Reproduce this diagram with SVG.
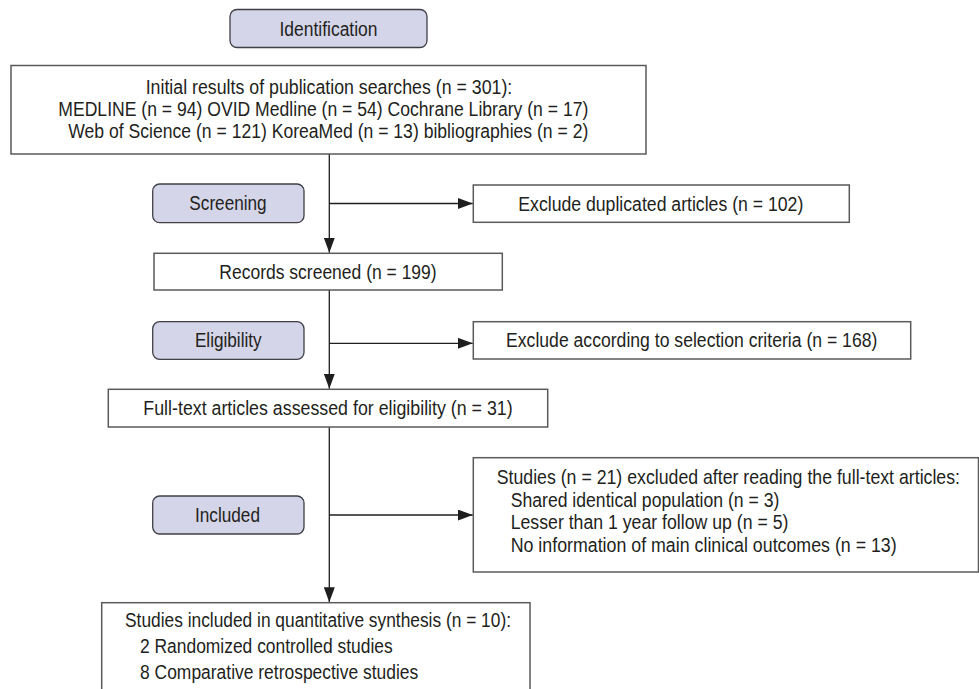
<svg xmlns="http://www.w3.org/2000/svg" width="979" height="689" viewBox="0 0 979 689">
<style>
text{font-family:"Liberation Sans",Arial,Helvetica,sans-serif;font-size:20px;fill:#231f20}
.c{text-anchor:middle}
.box{fill:#fff;stroke:#5a5a5a;stroke-width:1.5}
.phase{fill:#d5d5e9;stroke:#3f3f46;stroke-width:1.3}
.ln{fill:none;stroke:#1e1e1e;stroke-width:1.3}
</style>
<defs>
<marker id="ah" viewBox="0 0 15 11" refX="15" refY="5.5" markerWidth="15" markerHeight="11" markerUnits="userSpaceOnUse" orient="auto">
<path d="M0,0 L15,5.5 L0,11 z" fill="#1e1e1e"/>
</marker>
</defs>
<rect width="979" height="689" fill="#fff"/>
<g id="connectors">
<path class="ln" d="M329.3,154 V252.8" marker-end="url(#ah)"/>
<path class="ln" d="M329.3,203.5 H472.8" marker-end="url(#ah)"/>
<path class="ln" d="M329.3,290 V388.8" marker-end="url(#ah)"/>
<path class="ln" d="M329.3,343.3 H472.8" marker-end="url(#ah)"/>
<path class="ln" d="M329.3,427 V602.2" marker-end="url(#ah)"/>
<path class="ln" d="M329.3,515 H472.8" marker-end="url(#ah)"/>
</g>
<g id="identification">
<rect class="phase" x="230" y="9.5" width="197" height="38" rx="7"/>
<text class="c" x="328.5" y="35.5" textLength="98" lengthAdjust="spacingAndGlyphs">Identification</text>
</g>
<g id="initial-results">
<rect class="box" x="11" y="65.5" width="635" height="88.5"/>
<text class="c" x="329" y="94.3" textLength="366.6" lengthAdjust="spacingAndGlyphs">Initial results of publication searches (n = 301):</text>
<text class="c" x="323.3" y="116" textLength="530" lengthAdjust="spacingAndGlyphs">MEDLINE (n = 94) OVID Medline (n = 54) Cochrane Library (n = 17)</text>
<text class="c" x="328.3" y="138.3" textLength="520" lengthAdjust="spacingAndGlyphs">Web of Science (n = 121) KoreaMed (n = 13) bibliographies (n = 2)</text>
</g>
<g id="screening">
<rect class="phase" x="152.7" y="184" width="151.3" height="38.7" rx="7"/>
<text class="c" x="228" y="210" textLength="77.3" lengthAdjust="spacingAndGlyphs">Screening</text>
</g>
<g id="exclude-duplicated">
<rect class="box" x="473.3" y="185" width="376" height="37.3"/>
<text class="c" x="660.8" y="210.5" textLength="285" lengthAdjust="spacingAndGlyphs">Exclude duplicated articles (n = 102)</text>
</g>
<g id="records-screened">
<rect class="box" x="154" y="253.3" width="348.3" height="36.7"/>
<text class="c" x="328" y="279" textLength="217.3" lengthAdjust="spacingAndGlyphs">Records screened (n = 199)</text>
</g>
<g id="eligibility">
<rect class="phase" x="152.7" y="321.7" width="151.3" height="37.6" rx="7"/>
<text class="c" x="228.3" y="347" textLength="66.7" lengthAdjust="spacingAndGlyphs">Eligibility</text>
</g>
<g id="exclude-criteria">
<rect class="box" x="473.3" y="321.7" width="437.4" height="37.3"/>
<text class="c" x="691.7" y="347" textLength="371.3" lengthAdjust="spacingAndGlyphs">Exclude according to selection criteria (n = 168)</text>
</g>
<g id="full-text">
<rect class="box" x="108.3" y="389.3" width="439.4" height="37.7"/>
<text class="c" x="328" y="415" textLength="369.3" lengthAdjust="spacingAndGlyphs">Full-text articles assessed for eligibility (n = 31)</text>
</g>
<g id="included">
<rect class="phase" x="152.7" y="496" width="151.3" height="38" rx="7"/>
<text class="c" x="227.5" y="521.5" textLength="65" lengthAdjust="spacingAndGlyphs">Included</text>
</g>
<g id="studies-excluded">
<rect class="box" x="473.3" y="457.7" width="505.2" height="114.3"/>
<text transform="scale(0.85 1)" x="584.35" y="484" textLength="545.06" lengthAdjust="spacingAndGlyphs">Studies (n = 21) excluded after reading the full-text articles:</text>
<text x="510.7" y="506.7" textLength="268.7" lengthAdjust="spacingAndGlyphs">Shared identical population (n = 3)</text>
<text x="510.7" y="529.3" textLength="277.7" lengthAdjust="spacingAndGlyphs">Lesser than 1 year follow up (n = 5)</text>
<text x="510.7" y="551.7" textLength="386" lengthAdjust="spacingAndGlyphs">No information of main clinical outcomes (n = 13)</text>
</g>
<g id="studies-included">
<rect class="box" x="101.7" y="602.7" width="428.3" height="110"/>
<text x="125" y="627" textLength="386" lengthAdjust="spacingAndGlyphs">Studies included in quantitative synthesis (n = 10):</text>
<text x="140" y="653" textLength="252.7" lengthAdjust="spacingAndGlyphs">2 Randomized controlled studies</text>
<text x="140" y="678.5" textLength="278.3" lengthAdjust="spacingAndGlyphs">8 Comparative retrospective studies</text>
</g>
</svg>
